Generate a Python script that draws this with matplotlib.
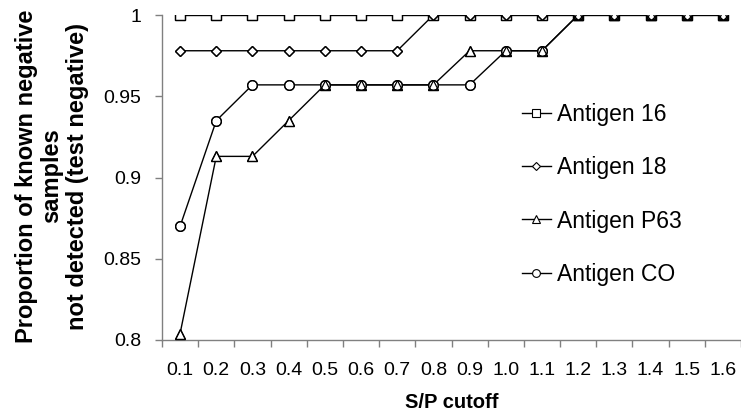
import matplotlib
matplotlib.use("Agg")
import matplotlib.pyplot as plt
import numpy as np

plt.rcParams['font.family'] = ['Liberation Sans', 'DejaVu Sans']

cutoffs = ["0.1", "0.2", "0.3", "0.4", "0.5", "0.6", "0.7", "0.8",
           "0.9", "1.0", "1.1", "1.2", "1.3", "1.4", "1.5", "1.6"]
antigen_16 = [1.0] * 16
antigen_18 = [0.978, 0.978, 0.978, 0.978, 0.978, 0.978, 0.978, 1.0,
              1.0, 1.0, 1.0, 1.0, 1.0, 1.0, 1.0, 1.0]
antigen_p63 = [0.804, 0.913, 0.913, 0.935, 0.957, 0.957, 0.957, 0.957,
               0.978, 0.978, 0.978, 1.0, 1.0, 1.0, 1.0, 1.0]
antigen_co = [0.870, 0.935, 0.957, 0.957, 0.957, 0.957, 0.957, 0.957,
              0.957, 0.978, 0.978, 1.0, 1.0, 1.0, 1.0, 1.0]
series_names = ["Antigen 16", "Antigen 18", "Antigen P63", "Antigen CO"]
y_ticks = [0.8, 0.85, 0.9, 0.95, 1.0]
y_tick_labels = ["0.8", "0.85", "0.9", "0.95", "1"]

series = [antigen_16, antigen_18, antigen_p63, antigen_co]
markers = ["s", "D", "^", "o"]
msizes = [6.5, 5.5, 7, 7]

fig = plt.figure(figsize=(7.41, 4.17), dpi=100)
ax = fig.add_axes([162 / 741, 77 / 417, 579 / 741, 325 / 417])

x = np.arange(len(cutoffs))
handles = []
for vals in series:
    ax.plot(x, vals, color="black", lw=1.0, zorder=2)
for vals, m, ms in zip(series, markers, msizes):
    ax.plot(x, vals, linestyle="none", marker=m, ms=ms, mfc="white",
            mec="black", mew=0.9, zorder=3)
for vals, m, ms in zip(series, markers, msizes):
    ax.plot(x, vals, linestyle="none", marker=m, ms=ms, mfc="none",
            mec="black", mew=0.9, zorder=4)
    h, = ax.plot([], [], color="black", lw=1.0, marker=m, ms=ms * 0.8,
                 mfc="white", mec="black", mew=0.8)
    handles.append(h)

ax.set_xlim(-0.5, len(cutoffs) - 0.5)
ax.set_ylim(0.8, 1.0)
ax.set_xticks(x)
ax.set_xticklabels(cutoffs)
ax.set_xticks(np.arange(-0.5, len(cutoffs) + 0.5, 1), minor=True)
ax.tick_params(axis="x", which="major", length=0, pad=16, labelsize=14)
ax.tick_params(axis="x", which="minor", length=5, color="#808080", width=1)
ax.set_yticks(y_ticks)
ax.set_yticklabels(y_tick_labels)
ax.tick_params(axis="y", which="major", length=5, color="#808080", width=1,
               pad=10, labelsize=14)

for s in ["top", "right"]:
    ax.spines[s].set_visible(False)
for s in ["left", "bottom"]:
    ax.spines[s].set_color("#808080")
    ax.spines[s].set_linewidth(1)

ax.set_xlabel("S/P cutoff", fontsize=14.5, fontweight="bold", va="center")
ax.xaxis.set_label_coords((452 - 162) / 579, (340 - 403) / 325)
ax.set_ylabel("Proportion of known negative\nsamples\nnot detected (test negative)",
              fontsize=17, fontweight="bold", linespacing=1.15, va="center")
ax.yaxis.set_label_coords((52 - 162) / 579, (340 - 176) / 325)

leg = ax.legend(handles, series_names, loc="center left",
                bbox_to_anchor=(522 / 741, 1 - 194.5 / 417),
                bbox_transform=fig.transFigure, frameon=False,
                fontsize=16.5, handlelength=1.25, handletextpad=0.28,
                labelspacing=1.31, borderpad=0, borderaxespad=0)

fig.savefig("out.png", dpi=100)
